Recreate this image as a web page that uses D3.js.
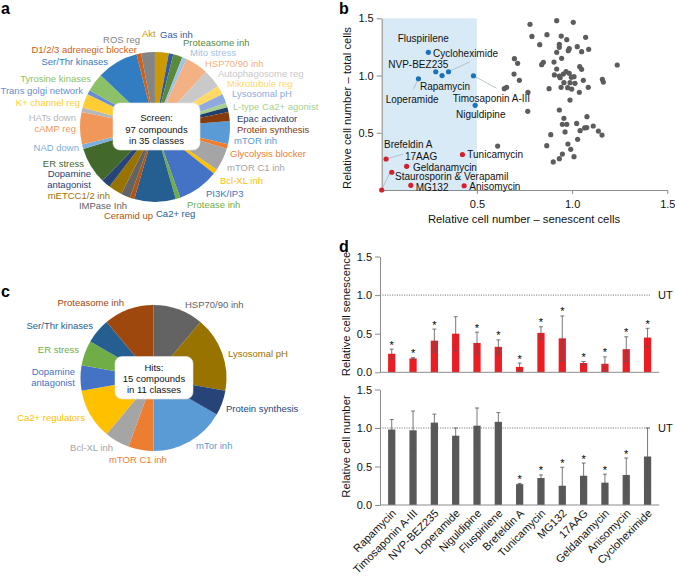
<!DOCTYPE html>
<html><head><meta charset="utf-8">
<script src="https://cdn.jsdelivr.net/npm/d3@7"></script>
<style>
body{margin:0;background:#fff}
svg{display:block}
text{font-family:'Liberation Sans',Arial,Helvetica,sans-serif}
</style>
</head><body>
<svg id="fig" width="675" height="579"></svg>
<script>
// ---------------- DATA ----------------
// Panel a: screen classes (Excel series order, clockwise)
const screenClasses = ["mTOR inh","Glycolysis blocker","mTOR C1 inh","Bcl-XL inh","PI3K/IP3","Protease inh","Ca2+ reg","Ceramid up","IMPase Inh","mETCC1/2 inh","Dopamine\nantagonist","ER stress","NAD down","cAMP reg","HATs down","K+ channel reg","Trans golgi network","Tyrosine kinases","Ser/Thr kinases","D1/2/3 adrenegic blocker","ROS reg","Akt","Gas inh","Proteasome inh","Mito stress","HSP70/90 inh","Autophagosome reg","Mikrotubule reg","Lysosomal pH","L-type Ca2+ agonist","Epac activator","Protein synthesis"];
const screenCounts = [5,1,5,1,9,1,9,1,2,3,2,8,1,7,1,3,1,4,9,1,3,3,1,2,1,5,4,2,2,1,1,2];
const screenColors = ["#5B9BD5","#ED7D31","#A5A5A5","#FFC000","#4472C4","#70AD47","#255E91","#B4520F","#636363","#997300","#264478","#43682B","#7CAFDD","#F1975A","#B7B7B7","#FFCD33","#698ED0","#8CC168","#327DC2","#D26012","#848484","#CC9A00","#335AA1","#5A8A39","#9DC3E6","#F4B183","#C9C9C9","#FFD966","#8FAADC","#A9D18E","#1F3F6E","#843C0C"];

// Panel c: hit classes
const hitClasses = ["mTor inh","mTOR C1 inh","Bcl-XL inh","Ca2+ regulators","Dopamine\nantagonist","ER stress","Ser/Thr kinases","Proteasome inh","HSP70/90 inh","Lysosomal pH","Protein synthesis"];
const hitCounts = [3,1,1,2,1,1,1,2,2,3,1];
const hitColors = ["#5B9BD5","#ED7D31","#A5A5A5","#FFC000","#4472C4","#70AD47","#255E91","#9E480E","#636363","#997300","#264478"];

// Panel b: scatter
const otherSenescent = [0.779,0.919,1.006,0.789,0.868,0.943,0.972,1.071,0.830,0.933,0.933,0.985,0.980,1.027,1.050,1.087,0.919,0.697,0.714,0.945,0.849,0.840,0.905,1.040,1.050,1.237,0.919,0.968,0.985,0.907,0.933,0.937,0.954,0.996,1.010,0.695,0.723,0.957,0.989,1.015,1.059,1.159,1.164,0.942,0.977,0.998,0.879,1.085,1.038,0.656,0.644,0.768,0.989,0.767,0.933,1.078,0.957,0.949,0.972,1.024,0.963,1.042,1.066,1.077,1.111,1.138,1.157,0.888,1.029,0.867,0.978,0.993,0.609,0.949,1.010,0.933,0.901];
const otherTotal = [1.447,1.479,1.465,1.342,1.357,1.345,1.313,1.334,1.270,1.273,1.246,1.235,1.217,1.252,1.208,1.229,1.203,1.147,1.107,1.150,1.115,1.095,1.118,1.077,1.054,1.092,1.057,1.034,1.019,1.005,0.996,0.981,1.013,0.984,0.990,1.013,0.958,0.938,0.938,0.932,0.958,0.967,0.943,0.897,0.894,0.882,0.885,0.897,0.853,0.897,0.885,0.853,0.786,0.687,0.699,0.641,0.626,0.574,0.574,0.582,0.507,0.518,0.542,0.545,0.559,0.515,0.480,0.483,0.443,0.387,0.402,0.355,0.384,0.314,0.291,0.274,0.245];
const hitNames = ["Fluspirilene","Cycloheximide","NVP-BEZ235","Rapamycin","Loperamide","Timosaponin A-III","Niguldipine","Brefeldin A","17AAG","Geldanamycin","Staurosporin & Verapamil","MG132","Tunicamycin","Anisomycin"];
const hitSenescent = [0.245,0.351,0.284,0.317,0.193,0.482,0.491,0.023,0.000,0.131,0.053,0.153,0.424,0.433];
const hitTotal = [1.203,1.033,1.033,1.000,0.972,0.998,0.740,0.271,0.000,0.207,0.155,0.041,0.310,0.037];
const hitGroup = ["keep","keep","keep","keep","keep","keep","keep","kill","kill","kill","kill","kill","kill","kill"];

// Panel d: bars
const drugs = ["Rapamycin","Timosaponin A-III","NVP-BEZ235","Loperamide","Niguldipine","Fluspirilene","Brefeldin A","Tunicamycin","MG132","17AAG","Geldanamycin","Anisomycin","Cycloheximide"];
const senescenceMean = [0.24,0.18,0.41,0.50,0.38,0.33,0.07,0.51,0.44,0.12,0.11,0.30,0.45];
const senescenceErr  = [0.06,0.01,0.15,0.22,0.14,0.09,0.05,0.08,0.29,0.02,0.09,0.16,0.12];
const senescenceSig  = [1,1,1,0,1,1,1,1,1,1,1,1,1];
const numberMean = [0.98,0.97,1.07,0.90,1.03,1.08,0.27,0.35,0.25,0.38,0.29,0.39,0.63];
const numberErr  = [0.13,0.25,0.11,0.10,0.23,0.12,0.01,0.04,0.24,0.165,0.11,0.22,0.37];
const numberSig  = [0,0,0,0,0,0,1,1,1,1,1,1,0];
const yTicks = [0,0.5,1,1.5];

// ---------------- LAYOUT (label placement) ----------------
const layoutA = {
 "mTOR inh":[234,144,"start"],"Glycolysis blocker":[230,156.5,"start"],"mTOR C1 inh":[227,171,"start"],
 "Bcl-XL inh":[220,184,"start"],"PI3K/IP3":[206,196.5,"start"],"Protease inh":[187,208,"start"],
 "Ca2+ reg":[156,217,"start"],"Ceramid up":[153,218.5,"end"],"IMPase Inh":[127,208.7,"end"],
 "mETCC1/2 inh":[110,198.5,"end"],"Dopamine\nantagonist":[91,177,"end"],"ER stress":[84,166.5,"end"],
 "NAD down":[79,151,"end"],"cAMP reg":[76,132,"end"],"HATs down":[76,120.5,"end"],
 "K+ channel reg":[80,105.5,"end"],"Trans golgi network":[83,94,"end"],"Tyrosine kinases":[91,82,"end"],
 "Ser/Thr kinases":[108,64.5,"end"],"D1/2/3 adrenegic blocker":[137,52.5,"end"],"ROS reg":[140,42.5,"end"],
 "Akt":[142,36.7,"start"],"Gas inh":[160,37.5,"start"],"Proteasome inh":[183,46.3,"start"],
 "Mito stress":[190,56.2,"start"],"HSP70/90 inh":[205,66.7,"start"],"Autophagosome reg":[218,76.7,"start"],
 "Mikrotubule reg":[227,86.7,"start"],"Lysosomal pH":[232,96.7,"start"],"L-type Ca2+ agonist":[233,110,"start"],
 "Epac activator":[237,122,"start"],"Protein synthesis":[237,132.5,"start"]
};
const layoutC = {
 "Proteasome inh":[124,305.5,"end"],"HSP70/90 inh":[185,308,"start"],"Ser/Thr kinases":[93,329,"end"],
 "ER stress":[79,353,"end"],"Lysosomal pH":[228,357,"start"],"Dopamine\nantagonist":[75,374.5,"end"],
 "Protein synthesis":[226,412,"start"],"Ca2+ regulators":[85,421,"end"],"mTor inh":[196,449,"start"],
 "Bcl-XL inh":[113,450.5,"end"],"mTOR C1 inh":[109,463,"start"]
};
const layoutB = {
 "Fluspirilene":[397.7,42.2],"Cycloheximide":[433,56.5],"NVP-BEZ235":[388.3,68],"Rapamycin":[420,90],
 "Loperamide":[385.7,103],"Timosaponin A-III":[452.7,101.5],"Niguldipine":[456,118.2],"Brefeldin A":[384,148.2],
 "17AAG":[405,160],"Geldanamycin":[413,170.5],"Staurosporin & Verapamil":[395,180],"MG132":[415.7,190.5],
 "Tunicamycin":[467.3,158],"Anisomycin":[469.3,190]
};
// leader lines: [from point name, to (data coords)]
const leadersB = [["Cycloheximide",0.464,1.121],["Timosaponin A-III",0.604,0.888],["Loperamide",0.166,0.880],["Brefeldin A",0.112,0.312],["17AAG",0.044,0.157]];

// ---------------- DRAW ----------------
const svg = d3.select("#fig");
const axisGray = "#8c8c8c";
const labelSize = 9.5;

function panelLetter(t,x,y){svg.append("text").attr("x",x).attr("y",y).attr("font-size",16).attr("font-weight","bold").text(t);}
panelLetter("a",1,13.5); panelLetter("b",339,14); panelLetter("c",1,297); panelLetter("d",339,251.5);

function drawPie(cx,cy,r,counts,colors,names,layout,startDeg,boxRect,boxLines,lineBases){
  const g = svg.append("g").attr("transform",`translate(${cx},${cy})`);
  const a0 = startDeg*Math.PI/180;
  const pie = d3.pie().sort(null).value(d=>d).startAngle(a0).endAngle(a0+2*Math.PI);
  const arc = d3.arc().innerRadius(0).outerRadius(r);
  g.selectAll("path").data(pie(counts)).join("path").attr("d",arc).attr("fill",(d,i)=>colors[i]);
  names.forEach((n,i)=>{
    const L = layout[n]; if(!L) return;
    const t = svg.append("text").attr("x",L[0]).attr("y",L[1]).attr("text-anchor",L[2])
      .attr("font-size",labelSize).attr("fill",colors[i]);
    n.split("\n").forEach((s,k)=>t.append("tspan").attr("x",L[0]).attr("dy",k?11.4:0).text(s));
  });
  svg.append("rect").attr("x",boxRect[0]).attr("y",boxRect[1]).attr("width",boxRect[2]).attr("height",boxRect[3])
    .attr("rx",7).attr("fill","#fff").attr("stroke","#e4e4e4").attr("stroke-width",0.6);
  boxLines.forEach((s,k)=>svg.append("text").attr("x",boxRect[0]+boxRect[2]/2).attr("y",lineBases[k])
    .attr("text-anchor","middle").attr("font-size",labelSize).attr("fill","#111").text(s));
}
drawPie(155,127,75,screenCounts,screenColors,screenClasses,layoutA,85.5,[113,103,87,47],["Screen:","97 compounds","in 35 classes"],[121.3,132.5,143.8]);
drawPie(153.5,378,73,hitCounts,hitColors,hitClasses,layoutC,120,[115,356.5,78,42.5],["Hits:","15 compounds","in 11 classes"],[370.6,382,393.4]);

// ---- Panel b ----
const xB = d3.scaleLinear().domain([0,1.5]).range([381.7,667.3]);
const yB = d3.scaleLinear().domain([0,1.5]).range([190,18.3]);
svg.append("rect").attr("x",xB(0)).attr("y",yB(1.5)).attr("width",xB(0.5)-xB(0)).attr("height",yB(0)-yB(1.5)).attr("fill","#d9eaf7");
const gb = svg.append("g");
const styleAxis = (sel)=>{sel.selectAll(".domain,.tick line").attr("stroke",axisGray);sel.selectAll("text").attr("font-size",11).attr("fill","#111").attr("font-family","'Liberation Sans',Arial,sans-serif");};
gb.append("g").attr("transform",`translate(${xB(0)},0)`).call(d3.axisLeft(yB).tickValues([0.5,1,1.5]).tickFormat(d3.format(".1f")).tickSize(5).tickSizeOuter(0).tickPadding(3)).call(styleAxis);
gb.append("g").attr("transform",`translate(0,${yB(0)})`).call(d3.axisBottom(xB).tickValues([0.5,1,1.5]).tickFormat(d3.format(".1f")).tickSize(4).tickSizeOuter(0).tickPadding(6)).call(styleAxis);
svg.append("text").attr("x",524).attr("y",223).attr("text-anchor","middle").attr("font-size",11.3).attr("fill","#111").text("Relative cell number – senescent cells");
svg.append("text").attr("transform","translate(351,108) rotate(-90)").attr("text-anchor","middle").attr("font-size",11.3).attr("fill","#111").text("Relative cell number – total cells");
// leader lines
leadersB.forEach(([n,x2,y2])=>{const i=hitNames.indexOf(n);
  svg.append("line").attr("x1",xB(hitSenescent[i])).attr("y1",yB(hitTotal[i])).attr("x2",xB(x2)).attr("y2",yB(y2)).attr("stroke","#a9b4bd").attr("stroke-width",0.8);});
svg.append("g").selectAll("circle").data(otherSenescent).join("circle")
  .attr("cx",d=>xB(d)).attr("cy",(d,i)=>yB(otherTotal[i])).attr("r",2.6).attr("fill","#5c5c5c");
svg.append("g").selectAll("circle").data(hitSenescent).join("circle")
  .attr("cx",d=>xB(d)).attr("cy",(d,i)=>yB(hitTotal[i])).attr("r",2.6).attr("fill",(d,i)=>hitGroup[i]==="keep"?"#1a72bb":"#d4202c");
hitNames.forEach(n=>{const L=layoutB[n];svg.append("text").attr("x",L[0]).attr("y",L[1]).attr("font-size",10).attr("fill","#111").text(n);});

// ---- Panel d ----
const xD = d3.scaleBand().domain(drugs).range([380,659.3]).paddingInner(0.66).paddingOuter(0.38);
function barChart(y0,y1,means,errs,sig,color,title,titleCy){
  const y = d3.scaleLinear().domain([0,1.5]).range([y0,y1]);
  const g = svg.append("g");
  g.append("line").attr("x1",380).attr("x2",650).attr("y1",y(1)).attr("y2",y(1)).attr("stroke","#777").attr("stroke-width",0.9).attr("stroke-dasharray","1.2,1.2");
  svg.append("text").attr("x",658).attr("y",y(1)+4).attr("font-size",11).attr("fill","#111").text("UT");
  g.selectAll("rect").data(means).join("rect").attr("x",(d,i)=>xD(drugs[i])).attr("width",xD.bandwidth())
    .attr("y",d=>y(d)).attr("height",d=>y(0)-y(d)).attr("fill",color);
  means.forEach((m,i)=>{
    const cx = xD(drugs[i])+xD.bandwidth()/2, lo=y(Math.max(0,m-errs[i])), hi=y(m+errs[i]);
    g.append("line").attr("x1",cx).attr("x2",cx).attr("y1",lo).attr("y2",hi).attr("stroke","#555").attr("stroke-width",0.8);
    [lo,hi].forEach(v=>g.append("line").attr("x1",cx-2).attr("x2",cx+2).attr("y1",v).attr("y2",v).attr("stroke","#555").attr("stroke-width",0.8));
    if(sig[i]) svg.append("text").attr("x",cx).attr("y",hi-0.5).attr("text-anchor","middle").attr("font-size",11).attr("fill","#000").text("*");
  });
  g.append("g").attr("transform","translate(380,0)").call(d3.axisLeft(y).tickValues(yTicks).tickFormat(d3.format(".1f")).tickSize(5).tickSizeOuter(0).tickPadding(3)).call(styleAxis);
  g.append("line").attr("x1",380).attr("x2",659.3).attr("y1",y(0)).attr("y2",y(0)).attr("stroke",axisGray);
  svg.append("text").attr("transform",`translate(350,${titleCy}) rotate(-90)`).attr("text-anchor","middle").attr("font-size",11.3).attr("fill","#111").text(title);
  return y;
}
barChart(372.3,256.5,senescenceMean,senescenceErr,senescenceSig,"#ec1c24","Relative cell senescence",314);
barChart(505,389.5,numberMean,numberErr,numberSig,"#595959","Relative cell number",446.5);
drugs.forEach(n=>{const cx=xD(n)+xD.bandwidth()/2;
  svg.append("text").attr("transform",`translate(${cx+5},514) rotate(-45)`).attr("text-anchor","end").attr("font-size",11).attr("fill","#111").text(n);});
</script>
</body></html>
